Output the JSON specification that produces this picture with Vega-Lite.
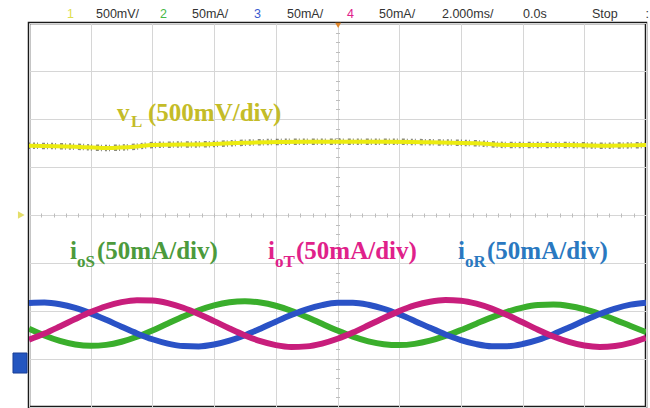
{
  "$schema": "https://vega.github.io/schema/vega-lite/v6.json",
  "width": 617,
  "height": 384,
  "autosize": {"type": "none"},
  "padding": {"left": 29, "top": 23, "right": 4, "bottom": 1},
  "background": "white",
  "config": {
    "view": {"stroke": "#1a1a1a", "strokeWidth": 2.5},
    "axis": {"title": null, "labels": false, "domain": false}
  },
  "datasets": {
    "currents": [
      {"t": -10, "iS": -2.371, "iT": -2.598, "iR": -1.835},
      {"t": -9.5, "iS": -2.512, "iT": -2.470, "iR": -1.825},
      {"t": -9, "iS": -2.624, "iT": -2.322, "iR": -1.860},
      {"t": -8.5, "iS": -2.698, "iT": -2.168, "iR": -1.937},
      {"t": -8, "iS": -2.726, "iT": -2.023, "iR": -2.049},
      {"t": -7.5, "iS": -2.706, "iT": -1.901, "iR": -2.184},
      {"t": -7, "iS": -2.641, "iT": -1.816, "iR": -2.328},
      {"t": -6.5, "iS": -2.537, "iT": -1.774, "iR": -2.467},
      {"t": -6, "iS": -2.406, "iT": -1.781, "iR": -2.589},
      {"t": -5.5, "iS": -2.260, "iT": -1.835, "iR": -2.679},
      {"t": -5, "iS": -2.115, "iT": -1.932, "iR": -2.730},
      {"t": -4.5, "iS": -1.985, "iT": -2.062, "iR": -2.737},
      {"t": -4, "iS": -1.883, "iT": -2.211, "iR": -2.698},
      {"t": -3.5, "iS": -1.818, "iT": -2.365, "iR": -2.617},
      {"t": -3, "iS": -1.797, "iT": -2.509, "iR": -2.504},
      {"t": -2.5, "iS": -1.823, "iT": -2.628, "iR": -2.368},
      {"t": -2, "iS": -1.891, "iT": -2.710, "iR": -2.223},
      {"t": -1.5, "iS": -1.995, "iT": -2.748, "iR": -2.085},
      {"t": -1, "iS": -2.125, "iT": -2.737, "iR": -1.965},
      {"t": -0.5, "iS": -2.267, "iT": -2.679, "iR": -1.878},
      {"t": 0, "iS": -2.408, "iT": -2.579, "iR": -1.830},
      {"t": 0.5, "iS": -2.533, "iT": -2.448, "iR": -1.827},
      {"t": 1, "iS": -2.631, "iT": -2.298, "iR": -1.870},
      {"t": 1.5, "iS": -2.692, "iT": -2.144, "iR": -1.953},
      {"t": 2, "iS": -2.710, "iT": -2.002, "iR": -2.069},
      {"t": 2.5, "iS": -2.685, "iT": -1.885, "iR": -2.206},
      {"t": 3, "iS": -2.619, "iT": -1.806, "iR": -2.351},
      {"t": 3.5, "iS": -2.520, "iT": -1.772, "iR": -2.488},
      {"t": 4, "iS": -2.397, "iT": -1.786, "iR": -2.605},
      {"t": 4.5, "iS": -2.264, "iT": -1.848, "iR": -2.690},
      {"t": 5, "iS": -2.133, "iT": -1.951, "iR": -2.734},
      {"t": 5.5, "iS": -2.018, "iT": -2.085, "iR": -2.733},
      {"t": 6, "iS": -1.930, "iT": -2.236, "iR": -2.688},
      {"t": 6.5, "iS": -1.877, "iT": -2.389, "iR": -2.601},
      {"t": 7, "iS": -1.866, "iT": -2.530, "iR": -2.483},
      {"t": 7.5, "iS": -1.895, "iT": -2.644, "iR": -2.345},
      {"t": 8, "iS": -1.963, "iT": -2.720, "iR": -2.200},
      {"t": 8.5, "iS": -2.063, "iT": -2.750, "iR": -2.064},
      {"t": 9, "iS": -2.184, "iT": -2.731, "iR": -1.949},
      {"t": 9.5, "iS": -2.314, "iT": -2.666, "iR": -1.867},
      {"t": 10, "iS": -2.440, "iT": -2.560, "iR": -1.827}
    ],
    "voltage": [
      {"t": -10, "v": 1.444},
      {"t": -8.5, "v": 1.423},
      {"t": -7.5, "v": 1.396},
      {"t": -6.5, "v": 1.427},
      {"t": -6, "v": 1.458},
      {"t": -4, "v": 1.479},
      {"t": -3, "v": 1.506},
      {"t": -1, "v": 1.527},
      {"t": 1.5, "v": 1.527},
      {"t": 3, "v": 1.515},
      {"t": 4.5, "v": 1.494},
      {"t": 5.5, "v": 1.458},
      {"t": 7.5, "v": 1.458},
      {"t": 8.5, "v": 1.444},
      {"t": 10, "v": 1.458}
    ],
    "labels": [
      {"x": -7.147, "y": 1.958, "txt": "v", "s": "vL"},
      {"x": -6.143, "y": 1.958, "txt": "(500mV/div)", "s": "vL"},
      {"x": -8.671, "y": -0.917, "txt": "i", "s": "S"},
      {"x": -7.796, "y": -0.917, "txt": "(50mA/div)", "s": "S"},
      {"x": -2.253, "y": -0.917, "txt": "i", "s": "T"},
      {"x": -1.345, "y": -0.917, "txt": "(50mA/div)", "s": "T"},
      {"x": 3.906, "y": -0.917, "txt": "i", "s": "R"},
      {"x": 4.846, "y": -0.917, "txt": "(50mA/div)", "s": "R"}
    ],
    "subs": [
      {"x": -6.694, "y": 1.833, "txt": "L", "s": "vL"},
      {"x": -8.444, "y": -1.08, "txt": "oS", "s": "S"},
      {"x": -2.026, "y": -1.08, "txt": "oT", "s": "T"},
      {"x": 4.133, "y": -1.08, "txt": "oR", "s": "R"}
    ],
    "header": [
      {"x": -8.768, "y": 4.104, "txt": "1", "c": "1"},
      {"x": -7.828, "y": 4.104, "txt": "500mV/", "c": "k"},
      {"x": -5.754, "y": 4.104, "txt": "2", "c": "2"},
      {"x": -4.716, "y": 4.104, "txt": "50mA/", "c": "k"},
      {"x": -2.707, "y": 4.104, "txt": "3", "c": "3"},
      {"x": -1.637, "y": 4.104, "txt": "50mA/", "c": "k"},
      {"x": 0.308, "y": 4.104, "txt": "4", "c": "4"},
      {"x": 1.345, "y": 4.104, "txt": "50mA/", "c": "k"},
      {"x": 3.387, "y": 4.104, "txt": "2.000ms/", "c": "k"},
      {"x": 6.013, "y": 4.104, "txt": "0.0s", "c": "k"},
      {"x": 8.25, "y": 4.104, "txt": "Stop", "c": "k"},
      {"x": 9.98, "y": 4.104, "txt": ":", "c": "k"}
    ],
    "markers": [
      {"name": "ch3 ground"}
    ]
  },
  "layer": [
    {
      "data": {"name": "currents"},
      "mark": {"type": "line", "stroke": "#3aae2c", "strokeWidth": 6, "interpolate": "monotone", "clip": true},
      "encoding": {
        "x": {"field": "t", "type": "quantitative", "scale": {"domain": [-10, 10], "nice": false, "zero": false},
          "axis": {"orient": "bottom", "values": [-10, -8, -6, -4, -2, 0, 2, 4, 6, 8, 10], "grid": true, "gridColor": "#d6d6d6", "gridWidth": 1, "ticks": false, "labels": false, "domain": false}},
        "y": {"field": "iS", "type": "quantitative", "scale": {"domain": [-4, 4], "nice": false, "zero": false},
          "axis": {"orient": "left", "values": [-4, -3, -2, -1, 0, 1, 2, 3, 4], "grid": true, "gridColor": "#d6d6d6", "gridWidth": 1, "ticks": false, "labels": false, "domain": false}}
      }
    },
    {
      "data": {"name": "voltage"},
      "mark": {"type": "line", "stroke": "#2a2a10", "strokeWidth": 6.5, "strokeDash": [1, 3, 2, 2, 1, 4, 3, 2], "opacity": 0.55, "interpolate": "monotone", "clip": true},
      "encoding": {
        "x": {"field": "t", "type": "quantitative", "scale": {"domain": [-10, 10], "nice": false, "zero": false},
          "axis": {"orient": "bottom", "offset": -194, "values": [-9.6, -9.2, -8.8, -8.4, -8, -7.6, -7.2, -6.8, -6.4, -6, -5.6, -5.2, -4.8, -4.4, -4, -3.6, -3.2, -2.8, -2.4, -2, -1.6, -1.2, -0.8, -0.4, 0, 0.4, 0.8, 1.2, 1.6, 2, 2.4, 2.8, 3.2, 3.6, 4, 4.4, 4.8, 5.2, 5.6, 6, 6.4, 6.8, 7.2, 7.6, 8, 8.4, 8.8, 9.2, 9.6], "grid": false, "ticks": true, "tickSize": 4, "tickColor": "#bdbdbd", "tickWidth": 1, "labels": false, "domain": false}},
        "y": {"field": "v", "type": "quantitative", "scale": {"domain": [-4, 4], "nice": false, "zero": false},
          "axis": {"orient": "left", "offset": -310.5, "values": [-3.8, -3.6, -3.4, -3.2, -3, -2.8, -2.6, -2.4, -2.2, -2, -1.8, -1.6, -1.4, -1.2, -1, -0.8, -0.6, -0.4, -0.2, 0, 0.2, 0.4, 0.6, 0.8, 1, 1.2, 1.4, 1.6, 1.8, 2, 2.2, 2.4, 2.6, 2.8, 3, 3.2, 3.4, 3.6, 3.8], "grid": false, "ticks": true, "tickSize": 4, "tickColor": "#bdbdbd", "tickWidth": 1, "labels": false, "domain": false}}
      }
    },
    {
      "data": {"name": "voltage"},
      "mark": {"type": "line", "stroke": "#ecec10", "strokeWidth": 4, "interpolate": "monotone", "clip": true},
      "encoding": {
        "x": {"field": "t", "type": "quantitative", "scale": {"domain": [-10, 10], "nice": false, "zero": false}, "axis": null},
        "y": {"field": "v", "type": "quantitative", "scale": {"domain": [-4, 4], "nice": false, "zero": false}, "axis": null}
      }
    },
    {
      "data": {"name": "currents"},
      "mark": {"type": "line", "stroke": "#2a52c6", "strokeWidth": 6, "interpolate": "monotone", "clip": true},
      "encoding": {
        "x": {"field": "t", "type": "quantitative", "scale": {"domain": [-10, 10], "nice": false, "zero": false}, "axis": null},
        "y": {"field": "iR", "type": "quantitative", "scale": {"domain": [-4, 4], "nice": false, "zero": false}, "axis": null}
      }
    },
    {
      "data": {"name": "currents"},
      "mark": {"type": "line", "stroke": "#c81e7c", "strokeWidth": 6, "interpolate": "monotone", "clip": true},
      "encoding": {
        "x": {"field": "t", "type": "quantitative", "scale": {"domain": [-10, 10], "nice": false, "zero": false}, "axis": null},
        "y": {"field": "iT", "type": "quantitative", "scale": {"domain": [-4, 4], "nice": false, "zero": false}, "axis": null}
      }
    },
    {
      "data": {"name": "labels"},
      "mark": {"type": "text", "font": "Liberation Serif", "fontWeight": "bold", "fontSize": 25, "align": "left", "baseline": "alphabetic"},
      "encoding": {
        "x": {"field": "x", "type": "quantitative", "scale": {"domain": [-10, 10], "nice": false, "zero": false}, "axis": null},
        "y": {"field": "y", "type": "quantitative", "scale": {"domain": [-4, 4], "nice": false, "zero": false}, "axis": null},
        "text": {"field": "txt"},
        "color": {"field": "s", "type": "nominal", "scale": {"domain": ["vL", "S", "T", "R"], "range": ["#c4bc28", "#4c9a3c", "#e0218a", "#2a78c0"]}, "legend": null}
      }
    },
    {
      "data": {"name": "subs"},
      "mark": {"type": "text", "font": "Liberation Serif", "fontWeight": "bold", "fontSize": 17, "align": "left", "baseline": "alphabetic"},
      "encoding": {
        "x": {"field": "x", "type": "quantitative", "scale": {"domain": [-10, 10], "nice": false, "zero": false}, "axis": null},
        "y": {"field": "y", "type": "quantitative", "scale": {"domain": [-4, 4], "nice": false, "zero": false}, "axis": null},
        "text": {"field": "txt"},
        "color": {"field": "s", "type": "nominal", "scale": {"domain": ["vL", "S", "T", "R"], "range": ["#c4bc28", "#4c9a3c", "#e0218a", "#2a78c0"]}, "legend": null}
      }
    },
    {
      "data": {"name": "header"},
      "mark": {"type": "text", "font": "Liberation Sans", "fontSize": 12.5, "align": "left", "baseline": "alphabetic"},
      "encoding": {
        "x": {"field": "x", "type": "quantitative", "scale": {"domain": [-10, 10], "nice": false, "zero": false}, "axis": null},
        "y": {"field": "y", "type": "quantitative", "scale": {"domain": [-4, 4], "nice": false, "zero": false}, "axis": null},
        "text": {"field": "txt"},
        "color": {"field": "c", "type": "nominal", "scale": {"domain": ["1", "2", "3", "4", "k"], "range": ["#dede50", "#46b846", "#3a5ad0", "#e0208a", "#333333"]}, "legend": null}
      }
    },
    {
      "data": {"name": "markers"},
      "mark": {"type": "rect", "fill": "#2456c0", "stroke": "#1a3f96", "strokeWidth": 1, "clip": false},
      "encoding": {
        "x": {"datum": -10.519, "type": "quantitative", "scale": {"domain": [-10, 10], "nice": false, "zero": false}, "axis": null},
        "x2": {"datum": -10.065},
        "y": {"datum": -2.875, "type": "quantitative", "scale": {"domain": [-4, 4], "nice": false, "zero": false}, "axis": null},
        "y2": {"datum": -3.292}
      }
    },
    {
      "data": {"name": "markers"},
      "mark": {"type": "point", "shape": "triangle-right", "filled": true, "size": 60, "color": "#e4de6a", "opacity": 1},
      "encoding": {
        "x": {"datum": -10.25, "type": "quantitative", "scale": {"domain": [-10, 10], "nice": false, "zero": false}, "axis": null},
        "y": {"datum": 0, "type": "quantitative", "scale": {"domain": [-4, 4], "nice": false, "zero": false}, "axis": null}
      }
    },
    {
      "data": {"name": "markers"},
      "mark": {"type": "point", "shape": "triangle-down", "filled": true, "size": 35, "color": "#e0862a", "opacity": 1},
      "encoding": {
        "x": {"datum": 0.02, "type": "quantitative", "scale": {"domain": [-10, 10], "nice": false, "zero": false}, "axis": null},
        "y": {"datum": 3.95, "type": "quantitative", "scale": {"domain": [-4, 4], "nice": false, "zero": false}, "axis": null}
      }
    }
  ],
  "resolve": {"axis": {"x": "independent", "y": "independent"}, "scale": {"color": "independent"}}
}
